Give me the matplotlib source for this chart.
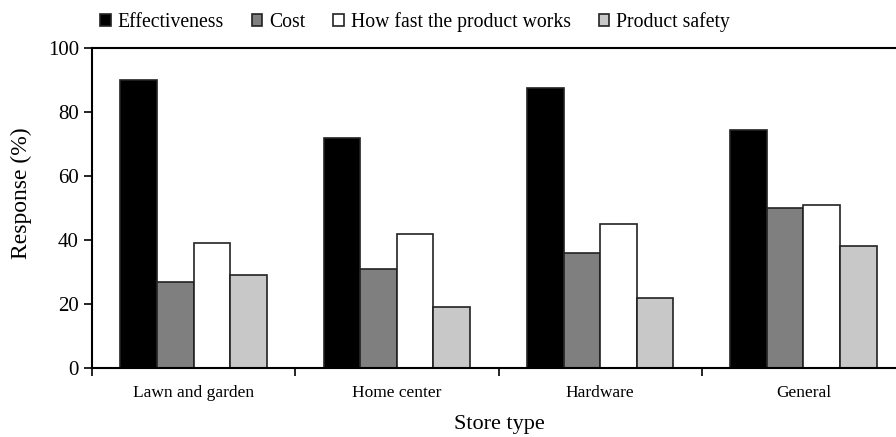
import matplotlib
matplotlib.use("Agg")
import matplotlib.pyplot as plt
import numpy as np

stores = ["Lawn and garden", "Home center", "Hardware", "General"]
series = ["Effectiveness", "Cost", "How fast the product works", "Product safety"]
effectiveness = [90, 72, 87.5, 74.5]
cost = [27, 31, 36, 50]
speed = [39, 42, 45, 51]
safety = [29, 19, 22, 38]
colors = ["#000000", "#7f7f7f", "#ffffff", "#c8c8c8"]

plt.rcParams["font.family"] = ["Liberation Serif", "DejaVu Serif"]

fig = plt.figure(figsize=(8.96, 4.37), dpi=100)
ax = fig.add_axes([92/896, (437-368)/437, (905-92)/896, (368-48)/437])

x = np.arange(len(stores))
w = 0.18
for i, (name, vals) in enumerate(zip(series, [effectiveness, cost, speed, safety])):
    ax.bar(x + (i - 1.5)*w, vals, w, color=colors[i], edgecolor="#222222",
           linewidth=1.2, label=name)

ax.set_xlim(-0.5, 3.5)
ax.set_ylim(0, 100)
ax.set_yticks([0, 20, 40, 60, 80, 100])
ax.set_xticks(x)
ax.set_xticklabels(stores)
ax.set_xticks(np.arange(-0.5, 4, 1), minor=True)
ax.tick_params(axis="x", which="major", length=0, pad=12, labelsize=12.5)
ax.tick_params(axis="x", which="minor", length=6, width=1.2, direction="out")
ax.tick_params(axis="y", length=6, width=1.2, direction="out", labelsize=15)
for s in ["left", "bottom", "top"]:
    ax.spines[s].set_linewidth(1.5)
ax.spines["right"].set_visible(False)

ax.set_ylabel("Response (%)", fontsize=17)
ax.yaxis.label.set_va("center")
ax.yaxis.set_label_coords(-71/813, (368-193)/320)
ax.set_xlabel("Store type", fontsize=16)
ax.xaxis.label.set_va("center")
ax.xaxis.set_label_coords((499-92)/813, -(425-368)/320)

fig.legend(loc="center left", bbox_to_anchor=(100/896, 1 - 22/437), ncol=4, frameon=False,
           fontsize=14.2, handlelength=0.55, handleheight=0.55, handletextpad=0.35,
           columnspacing=1.4, borderaxespad=0, borderpad=0)

fig.savefig("out.png", dpi=100)
